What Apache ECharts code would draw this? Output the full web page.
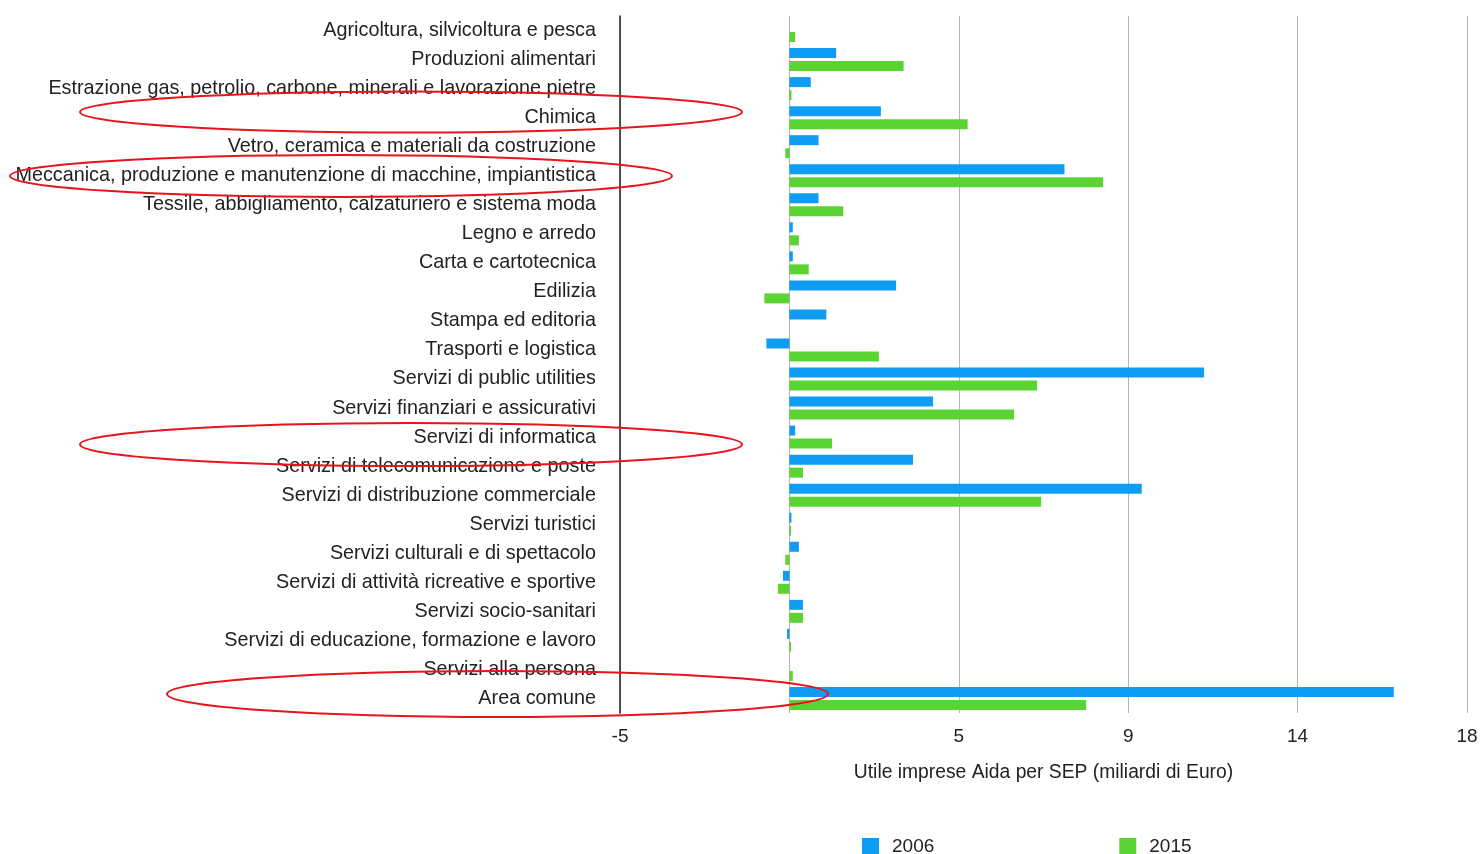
<!DOCTYPE html>
<html>
<head>
<meta charset="utf-8">
<script src="https://cdn.jsdelivr.net/npm/echarts@6/dist/echarts.min.js"></script>
<style>
  html, body { margin: 0; padding: 0; background: #fff; }
  #main { width: 1481px; height: 854px; }
</style>
</head>
<body>
<div id="main"></div>
<script>
let categories = [
    'Agricoltura, silvicoltura e pesca',
    'Produzioni alimentari',
    'Estrazione gas, petrolio, carbone, minerali e lavorazione pietre',
    'Chimica',
    'Vetro, ceramica e materiali da costruzione',
    'Meccanica, produzione e manutenzione di macchine, impiantistica',
    'Tessile, abbigliamento, calzaturiero e sistema moda',
    'Legno e arredo',
    'Carta e cartotecnica',
    'Edilizia',
    'Stampa ed editoria',
    'Trasporti e logistica',
    'Servizi di public utilities',
    'Servizi finanziari e assicurativi',
    'Servizi di informatica',
    'Servizi di telecomunicazione e poste',
    'Servizi di distribuzione commerciale',
    'Servizi turistici',
    'Servizi culturali e di spettacolo',
    'Servizi di attività ricreative e sportive',
    'Servizi socio-sanitari',
    'Servizi di educazione, formazione e lavoro',
    'Servizi alla persona',
    'Area comune'
]
let values2006 = [0, 1.38, 0.63, 2.7, 0.86, 8.12, 0.86, 0.1, 0.1, 3.15, 1.09, -0.68,
    12.24, 4.24, 0.17, 3.65, 10.4, 0.06, 0.28, -0.19, 0.4, -0.07, 0, 17.84]
let values2015 = [0.17, 3.37, 0.06, 5.26, -0.12, 9.26, 1.59, 0.28, 0.57, -0.74, 0, 2.64,
    7.31, 6.63, 1.26, 0.4, 7.43, 0.05, -0.12, -0.34, 0.4, 0.05, 0.1, 8.76]
// the source axis prints these labels on its evenly spaced gridlines
let tickLabels = {'-5': '-5', '0': '', '5': '5', '10': '9', '15': '14', '20': '18'}

let font = "'Liberation Sans', Arial, Helvetica, sans-serif"
let red = '#e8141c'

// hand drawn red ellipses over the picture
function ring(cx, cy, rx, ry) {
    return {
        type: 'ellipse',
        z: 100,
        shape: {cx: cx, cy: cy, rx: rx, ry: ry},
        style: {fill: 'none', stroke: red, lineWidth: 2}
    }
}

let chart = echarts.init(document.getElementById('main'));
let option = {
    animation: false,
    textStyle: {fontFamily: font},
    grid: {left: 620, right: 14, top: 16, bottom: 141, containLabel: false},
    legend: {
        left: 857,
        top: 832,
        itemWidth: 17,
        itemHeight: 17,
        itemGap: 185,
        icon: 'rect',
        textStyle: {fontSize: 19, color: '#222', fontFamily: font, padding: [0, 0, 0, 8]},
        data: ['2006', '2015']
    },
    xAxis: {
        type: 'value',
        min: -5,
        max: 20,
        interval: 5,
        name: 'Utile imprese Aida per SEP (miliardi di Euro)',
        nameLocation: 'middle',
        nameGap: 50,
        nameTextStyle: {fontSize: 19.3, color: '#222', fontFamily: font},
        axisLine: {show: false},
        axisTick: {show: false},
        axisLabel: {
            fontSize: 19,
            color: '#222',
            margin: 14,
            fontFamily: font,
            formatter: function (v) { return tickLabels[String(v)] }
        },
        splitLine: {
            show: true,
            lineStyle: {color: '#b3b3b3', width: 1}
        }
    },
    yAxis: {
        type: 'category',
        inverse: true,
        data: categories,
        axisLine: {onZero: false, lineStyle: {color: '#222', width: 1.5}},
        axisTick: {show: false},
        axisLabel: {fontSize: 19.8, color: '#222', margin: 24, fontFamily: font}
    },
    series: [
        {
            name: '2006',
            type: 'bar',
            data: values2006,
            barWidth: 10,
            barGap: '30%',
            itemStyle: {color: '#0f9cf3'}
        },
        {
            name: '2015',
            type: 'bar',
            data: values2015,
            barWidth: 10,
            itemStyle: {color: '#5bd433'}
        }
    ],
    graphic: [
        ring(411, 112, 331, 20.5),
        ring(341, 176, 331, 21),
        ring(411, 444.5, 331, 21.5),
        ring(497.5, 694, 330.5, 23)
    ]
};
chart.setOption(option);
</script>
</body>
</html>
